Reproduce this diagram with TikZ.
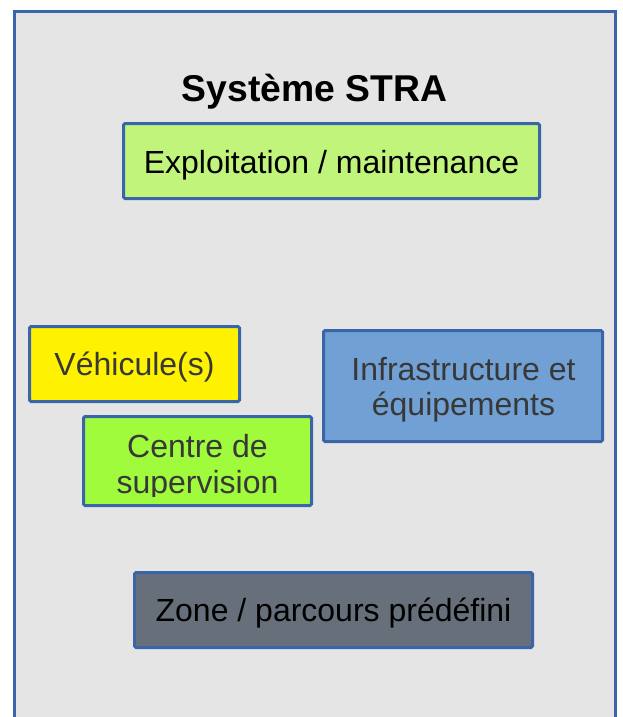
\documentclass[tikz,border=0pt]{standalone}
\usepackage{fontspec}
\setmainfont{Liberation Sans}
\definecolor{bord}{HTML}{3A66A9}
\definecolor{outerfill}{HTML}{E5E5E5}
\definecolor{explfill}{HTML}{C1F47B}
\definecolor{vehfill}{HTML}{FFF200}
\definecolor{centrefill}{HTML}{A0FB3C}
\definecolor{infrafill}{HTML}{70A0D4}
\definecolor{zonefill}{HTML}{67707A}
\definecolor{greytext}{HTML}{383838}
\begin{document}
\begin{tikzpicture}[x=1pt,y=-1pt,
  box/.style={draw=bord, line width=3pt, rounded corners=1.5pt, inner sep=0pt, rectangle},
  txt/.style={font=\fontsize{32}{36}\selectfont, anchor=base, inner sep=0pt},
]
\useasboundingbox (0,0) rectangle (622,717);
\clip (0,0) rectangle (622,717);
\fill[white] (0,0) rectangle (622,717);
\draw[draw=bord, fill=outerfill, line width=3pt] (14,11.5) rectangle (615,740);

\node[txt, font=\fontsize{37.3}{42}\selectfont\bfseries] (title) at (314.5,101) {Système STRA};

\node[box, fill=explfill, minimum width=416pt, minimum height=75pt] (expl) at (331.5,161) {};
\node[txt] (expltxt) at (331.5,173) {Exploitation / maintenance};

\node[box, fill=vehfill, minimum width=210pt, minimum height=75pt] (veh) at (134.5,364) {};
\node[txt, text=greytext] (vehtxt) at (134.5,375) {Véhicule(s)};

\node[box, fill=centrefill, minimum width=228pt, minimum height=89pt] (centre) at (197.5,461) {};
\begin{scope}
  \clip (82,415) rectangle (313,496);
  \node[txt, text=greytext] (centretxta) at (197.5,457) {Centre de};
  \node[txt, text=greytext] (centretxtb) at (197.5,493) {supervision};
\end{scope}

\node[box, fill=infrafill, minimum width=279pt, minimum height=111pt] (infra) at (463,386) {};
\node[txt, text=greytext] (infratxta) at (463.5,380) {Infrastructure et};
\node[txt, text=greytext] (infratxtb) at (463.5,415) {équipements};

\node[box, fill=zonefill, minimum width=398pt, minimum height=75pt] (zone) at (333.5,610) {};
\node[txt] (zonetxt) at (333.5,621.5) {Zone / parcours prédéfini};
\end{tikzpicture}
\end{document}
